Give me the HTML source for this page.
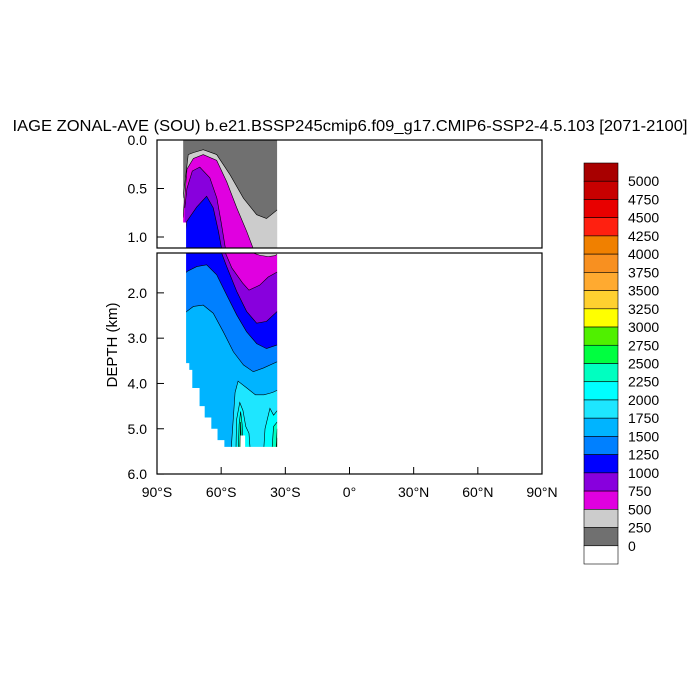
<!DOCTYPE html>
<html><head><meta charset="utf-8"><style>
html,body{margin:0;padding:0;background:#fff;width:700px;height:700px;overflow:hidden}
svg{display:block;font-family:"Liberation Sans",sans-serif}
</style></head><body>
<svg id="c" width="700" height="700" viewBox="0 0 700 700">
<defs>
<clipPath id="clipTop"><rect x="157" y="140" width="385" height="108"/></clipPath>
<clipPath id="clipBot"><rect x="157" y="253" width="385" height="221"/></clipPath>
</defs>
<text x="350" y="131" text-anchor="middle" font-size="16" textLength="675" lengthAdjust="spacingAndGlyphs">IAGE ZONAL-AVE (SOU) b.e21.BSSP245cmip6.f09_g17.CMIP6-SSP2-4.5.103 [2071-2100]</text>
<g id="topP" clip-path="url(#clipTop)"></g>
<g id="botP" clip-path="url(#clipBot)"></g>
<g id="axes"></g>
<g id="cbar"></g>
<text transform="translate(117,345) rotate(-90)" text-anchor="middle" font-size="15">DEPTH (km)</text>
</svg>
<script>
const NS="http://www.w3.org/2000/svg";
// ---- data ----
const levels=[0,250,500,750,1000,1250,1500,1750,2000,2250,2500,2750];
const levelColors=["#707070","#cccccc","#e000e0","#8800dd","#0000ff","#0080ff","#00b4ff","#1ee6ff","#00ffff","#00ffc0","#00ff40","#50f000"];
const oceanLats=[-77.8,-33.8];
const iso250Lats=[-77.8,-75.4,-73,-68.4,-62.1,-55.8,-49.6,-43.4,-38.8,-33.8];
const iso250Depths=[0.6,0.15,0.13,0.10,0.15,0.36,0.60,0.77,0.81,0.72];
const iso500Lats=[-77.8,-76,-73,-68.4,-62.1,-57.4,-52.7,-48.1,-45,-42,-38,-35,-33.8];
const iso500Depths=[0.8,0.3,0.19,0.15,0.21,0.43,0.70,0.94,1.12,1.17,1.2,1.18,1.15];
const iso750Lats=[-77,-76,-73.5,-70,-65.3,-62,-60,-58,-55,-50,-47,-42,-38,-33.8];
const iso750Depths=[0.7,0.5,0.32,0.28,0.39,0.6,0.85,1.12,1.45,1.78,1.94,1.83,1.65,1.54];
const iso1000Lats=[-77,-76.1,-71.4,-66.8,-63.7,-61.3,-59.8,-57.4,-52.7,-48.1,-43.4,-38.8,-33.8];
const iso1000Depths=[1.0,0.84,0.69,0.58,0.70,0.94,1.12,1.42,1.97,2.41,2.67,2.63,2.41];
const iso1250Lats=[-77,-76.1,-71.4,-66.8,-62.1,-57.4,-52.7,-48.1,-43.4,-38.8,-33.8];
const iso1250Depths=[1.6,1.53,1.42,1.38,1.60,2.05,2.49,2.86,3.12,3.23,3.15];
const iso1500Lats=[-77,-76.1,-73,-68.4,-63.7,-59,-54.3,-49.6,-45,-40.3,-33.8];
const iso1500Depths=[2.45,2.41,2.30,2.27,2.45,2.86,3.30,3.59,3.74,3.66,3.52];
const iso1750Lats=[-55.5,-55.1,-53.5,-52.1,-48,-44,-40,-36,-33.8];
const iso1750Depths=[6,5.3,4.2,3.95,4.1,4.25,4.25,4.2,4.15];
const iso2000aLats=[-53.3,-52.8,-51.3,-49.8,-48.5,-47,-45.6];
const iso2000aDepths=[6,4.8,4.42,4.6,4.95,5.1,6];
const iso2000bLats=[-40.8,-39.5,-37.2,-35.5,-33.8];
const iso2000bDepths=[6,5.0,4.55,4.7,4.6];
const iso2250aLats=[-52.4,-51.6,-50.9,-50.2,-49.4];
const iso2250aDepths=[6,4.9,4.62,4.9,6];
const iso2250bLats=[-37,-35.5,-33.8];
const iso2250bDepths=[6,4.95,4.85];
const iso2500aLats=[-51.6,-50.9,-50.2];
const iso2500aDepths=[6,4.85,6];
const iso2500bLats=[-35,-33.8];
const iso2500bDepths=[6,5.0];
const iso2750Lats=[-34.4,-33.8];
const iso2750Depths=[6,5.2];
const bottomLats=[-77.8,-76.4,-74.9,-73.5,-70.1,-67.7,-64.6,-61.7,-58.5,-51.0,-48.8,-33.8];
const bottomDepths=[0.85,3.55,3.7,4.1,4.5,4.75,5.0,5.25,5.4,5.15,5.4];
const cbColors=["#a80000","#c80000","#e80000","#ff2010","#f08000","#f89020","#ffaa30","#ffd030","#ffff00","#50f000","#00ff40","#00ffc0","#00ffff","#1ee6ff","#00b4ff","#0080ff","#0000ff","#8800dd","#e000e0","#cccccc","#707070","#ffffff"];
const cbLabels=["5000","4750","4500","4250","4000","3750","3500","3250","3000","2750","2500","2250","2000","1750","1500","1250","1000","750","500","250","0"];
const xTicks=[-90,-60,-30,0,30,60,90];
const xTickLabels=["90°S","60°S","30°S","0°","30°N","60°N","90°N"];
const yTopTicks=[0,0.5,1.0];
const yTopLabels=["0.0","0.5","1.0"];
const yBotTicks=[2,3,4,5,6];
const yBotLabels=["2.0","3.0","4.0","5.0","6.0"];
// ---- scales ----
const xS=lat=>157+(lat+90)*385/180;
const yTop=d=>140+Math.min(d,1.2)*97;
const yBot=d=>253+(Math.max(1.1,Math.min(d,6.05))-1.12)*45.3;
const layers=[
 [0,[oceanLats,[0,0]]],
 [1,[iso250Lats,iso250Depths]],
 [2,[iso500Lats,iso500Depths]],
 [3,[iso750Lats,iso750Depths]],
 [4,[iso1000Lats,iso1000Depths]],
 [5,[iso1250Lats,iso1250Depths]],
 [6,[iso1500Lats,iso1500Depths]],
 [7,[iso1750Lats,iso1750Depths]],
 [8,[iso2000aLats,iso2000aDepths]],
 [8,[iso2000bLats,iso2000bDepths]],
 [9,[iso2250aLats,iso2250aDepths]],
 [9,[iso2250bLats,iso2250bDepths]],
 [10,[iso2500aLats,iso2500aDepths]],
 [10,[iso2500bLats,iso2500bDepths]],
 [11,[iso2750Lats,iso2750Depths]]
];
function el(tag,attrs,parent){const e=document.createElementNS(NS,tag);for(const k in attrs)e.setAttribute(k,attrs[k]);parent.appendChild(e);return e;}
function drawPanel(g,yS,nm){
  layers.forEach(([ci,[lats,deps]])=>{
    let pts=lats.map((l,j)=>xS(l)+","+yS(deps[j]));
    pts.push(xS(lats[lats.length-1])+","+yS(7));pts.push(xS(lats[0])+","+yS(7));
    const p=el("polygon",{points:pts.join(" "),fill:levelColors[ci]},g);
    
    
  });
  layers.slice(1).forEach(([ci,[lats,deps]])=>{
    const l=el("polyline",{points:lats.map((la,j)=>xS(la)+","+yS(deps[j])).join(" "),fill:"none",stroke:"#000","stroke-width":0.6},g);
    
    
  });
  let pts=[xS(bottomLats[0])+","+yS(0)];
  for(let i=0;i<bottomDepths.length;i++){pts.push(xS(bottomLats[i])+","+yS(bottomDepths[i]));pts.push(xS(bottomLats[i+1])+","+yS(bottomDepths[i]));}
  pts.push(xS(bottomLats[bottomLats.length-1])+","+yS(0));
  pts.push(xS(90)+","+yS(0));pts.push(xS(90)+","+yS(7));pts.push(xS(-90)+","+yS(7));pts.push(xS(-90)+","+yS(0));
  const m=el("polygon",{points:pts.join(" "),fill:"#fff"},g);
  
  
}
drawPanel(document.getElementById("topP"),yTop,"upper");
drawPanel(document.getElementById("botP"),yBot,"lower");
const ax=document.getElementById("axes");
const f1=el("rect",{x:157,y:140,width:385,height:108,fill:"none",stroke:"#000","stroke-width":1.2},ax);

const f2=el("rect",{x:157,y:253,width:385,height:221,fill:"none",stroke:"#000","stroke-width":1.2},ax);

yTopTicks.forEach((d,i)=>{
  el("line",{x1:157,x2:164,y1:yTop(d),y2:yTop(d),stroke:"#000"},ax);
  const t=el("text",{x:147,y:yTop(d)+5,"text-anchor":"end","font-size":14},ax);t.textContent=yTopLabels[i];
  
});
yBotTicks.forEach((d,i)=>{
  el("line",{x1:157,x2:164,y1:yBot(d),y2:yBot(d),stroke:"#000"},ax);
  const t=el("text",{x:147,y:yBot(d)+5,"text-anchor":"end","font-size":14},ax);t.textContent=yBotLabels[i];
  
});
xTicks.forEach((l,i)=>{
  el("line",{x1:xS(l),x2:xS(l),y1:474,y2:467,stroke:"#000"},ax);
  const t=el("text",{x:xS(l),y:497,"text-anchor":"middle","font-size":14},ax);t.textContent=xTickLabels[i];
  
});
const cb=document.getElementById("cbar");
const bh=(564-163)/cbColors.length;
cbColors.forEach((c,i)=>{
  const r=el("rect",{x:584,y:163+i*bh,width:34,height:bh,fill:c,stroke:"#000","stroke-width":0.6},cb);
  
});
cbLabels.forEach((s,i)=>{
  const t=el("text",{x:628,y:163+(i+1)*bh+5,"font-size":14},cb);t.textContent=s;
  
});
</script>
</body></html>
